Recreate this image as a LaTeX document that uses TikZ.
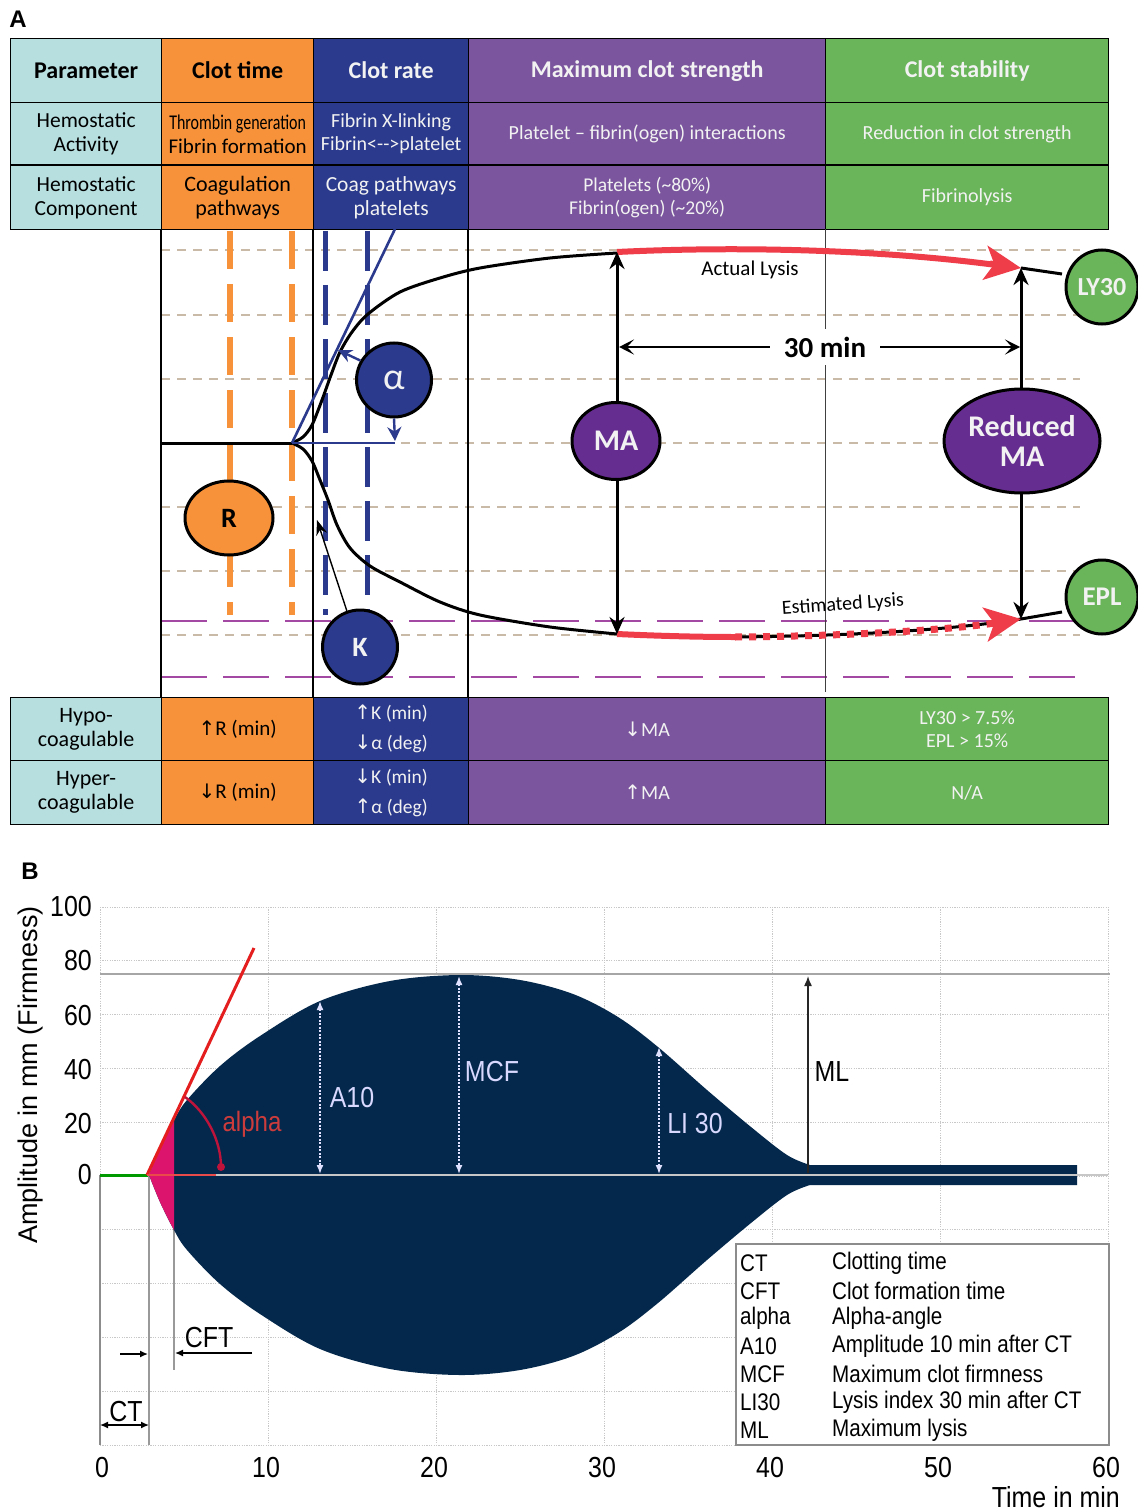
\documentclass[tikz,border=0pt]{standalone}
\usepackage{fontspec}
\usepackage{graphicx}
\setmainfont{Carlito}
\newfontfamily\arialf{Liberation Sans}
\newfontfamily\arialn[FakeStretch=0.86]{Liberation Sans}
\newfontfamily\dvf{DejaVu Sans}
\usetikzlibrary{arrows.meta,shapes.geometric}
\definecolor{cteal}{RGB}{183,223,224}
\definecolor{corange}{RGB}{247,146,58}
\definecolor{cnavy}{RGB}{43,58,140}
\definecolor{cpurple}{RGB}{123,86,158}
\definecolor{cgreen}{RGB}{106,180,90}
\definecolor{cdpurple}{RGB}{102,45,145}
\definecolor{ctan}{RGB}{200,186,166}
\definecolor{cpdash}{RGB}{163,73,164}
\definecolor{cred}{RGB}{239,62,74}
\definecolor{cnavyB}{RGB}{4,40,75}
\definecolor{cmag}{RGB}{220,20,110}
\definecolor{cline}{RGB}{228,30,30}
\definecolor{carc}{RGB}{190,20,60}
\definecolor{calab}{RGB}{205,60,60}
\definecolor{cgrid}{RGB}{200,200,200}
\definecolor{ctxt}{RGB}{242,242,242}
\newcommand{\fs}[2]{\fontsize{#1}{#2}\selectfont}
\newcommand{\uarr}{{\dvf\fontsize{20}{22}\selectfont ↑}}
\newcommand{\darr}{{\dvf\fontsize{20}{22}\selectfont ↓}}
\tikzset{
  cellbox/.style={draw=black, line width=1.3pt, anchor=north west, align=center, inner sep=0pt},
  hdr/.style={font=\fs{24}{28}\bfseries},
  bod/.style={font=\fs{21}{24}},
  bodp/.style={font=\fs{20}{23}},
  wt/.style={text=ctxt},
  circ/.style={ellipse, draw=black, line width=3pt, inner sep=0pt, align=center},
  gline/.style={black, line width=1.2pt},
  tandash/.style={ctan, line width=1.4pt, dash pattern=on 9pt off 7pt},
  pdash/.style={cpdash, line width=1.4pt, dash pattern=on 46pt off 16pt},
  odash/.style={corange, line width=6pt, dash pattern=on 38pt off 15pt},
  bdash/.style={cnavy, line width=5pt, dash pattern=on 40pt off 14pt},
  curve/.style={black, line width=3pt},
  bigtip/.style={-{Stealth[length=36pt,width=34pt,inset=9pt]}},
  gridl/.style={cgrid, line width=1pt, dash pattern=on 1.2pt off 1.2pt},
  wda/.style={white!88!blue, line width=1.6pt, dash pattern=on 2pt off 1.5pt, {Latex[length=9pt,width=7pt]}-{Latex[length=9pt,width=7pt]}},
  btick/.style={font=\fs{29}{32}\arialn},
  blab/.style={font=\fs{29}{32}\arialn},
  leg/.style={font=\fs{24}{27}\arialn, anchor=west, inner sep=0pt}
}
\begin{document}
\begin{tikzpicture}[x=1pt,y=-1pt]
\useasboundingbox (0,0) rectangle (1137,1511);
\fill[white] (0,0) rectangle (1137,1511);

% ================= PANEL A =================
\node[font=\fs{24}{28}\arialf\bfseries] (labA) at (18,19) {A};

% header row
\node[cellbox, fill=cteal, minimum width=151pt, minimum height=64pt, hdr] (p1) at (10,38) {Parameter};
\node[cellbox, fill=corange, minimum width=152pt, minimum height=64pt, hdr] (p2) at (161,38) {Clot time};
\node[cellbox, fill=cnavy, minimum width=155pt, minimum height=64pt, hdr, wt] (p3) at (313,38) {Clot rate};
\node[cellbox, fill=cpurple, minimum width=357pt, minimum height=64pt, hdr, wt] (p4) at (468,38) {Maximum clot strength};
\node[cellbox, fill=cgreen, minimum width=283pt, minimum height=64pt, hdr, wt] (p5) at (825,38) {Clot stability};
% row 2
\node[cellbox, fill=cteal, minimum width=151pt, minimum height=63pt, font=\fs{21.5}{24}] (a1) at (10,102) {Hemostatic\\Activity};
\node[cellbox, fill=corange, minimum width=152pt, minimum height=63pt, bod] (a2) at (161,102) {\scalebox{0.76}[1]{Thrombin generation}\\Fibrin formation};
\node[cellbox, fill=cnavy, minimum width=155pt, minimum height=63pt, bodp, wt] (a3) at (313,102) {Fibrin X-linking\\Fibrin<-{}->platelet};
\node[cellbox, fill=cpurple, minimum width=357pt, minimum height=63pt, bodp, wt] (a4) at (468,102) {Platelet – fibrin(ogen) interactions};
\node[cellbox, fill=cgreen, minimum width=283pt, minimum height=63pt, bodp, wt] (a5) at (825,102) {Reduction in clot strength};
% row 3
\node[cellbox, fill=cteal, minimum width=151pt, minimum height=64pt, font=\fs{21.5}{24}] (c1) at (10,165) {Hemostatic\\Component};
\node[cellbox, fill=corange, minimum width=152pt, minimum height=64pt, font=\fs{22}{24}] (c2) at (161,165) {Coagulation\\pathways};
\node[cellbox, fill=cnavy, minimum width=155pt, minimum height=64pt, font=\fs{21.5}{24}, wt] (c3) at (313,165) {Coag pathways\\platelets};
\node[cellbox, fill=cpurple, minimum width=357pt, minimum height=64pt, font=\fs{19.5}{23}, wt] (c4) at (468,165) {Platelets (\textasciitilde80\%)\\Fibrin(ogen) (\textasciitilde20\%)};
\node[cellbox, fill=cgreen, minimum width=283pt, minimum height=64pt, bodp, wt] (c5) at (825,165) {Fibrinolysis};
\draw[black, line width=2.6pt] (c1.north west) -- (c5.north east);

% graph area: horizontal dashed lines
\foreach \yy in {250,315,379,443,507,571,635} \draw[tandash] (161,\yy) -- (1080,\yy);
\foreach \yy in {621,677} \draw[pdash] (161,\yy) -- (1080,\yy);
% vertical column lines
\coordinate (v1t) at (161,229); \coordinate (v1b) at (161,697);
\coordinate (v2t) at (313,229); \coordinate (v2b) at (313,697);
\coordinate (v3t) at (468,229); \coordinate (v3b) at (468,697);
\coordinate (v4t) at (825,229); \coordinate (v4b) at (825,692);
\draw[gline] (v1t) -- (v1b);
\draw[gline] (v2t) -- (v2b);
\draw[gline] (v3t) -- (v3b);
\draw[black!75, line width=1pt] (v4t) -- (v4b);
% orange and blue dashed verticals
\draw[odash] (230,231) -- (230,615);
\draw[odash] (292,231) -- (292,615);
\draw[bdash] (325,231) -- (325,615);
\draw[bdash] (367,231) -- (367,615);

% black curves
\coordinate (start) at (161,443);
\coordinate (split) at (292,443);
\draw[curve] (start) -- (split);
\draw[curve] plot[smooth] coordinates {(292,443) (303,437) (312,425) (322,400) (331,375) (340,352) (352,332) (368,314) (400,292) (440,278) (480,268) (550,258) (617,253)};
\draw[curve] plot[smooth] coordinates {(292,443) (303,449) (312,461) (320,480) (328,500) (337,525) (350,548) (370,566) (400,582) (440,602) (480,615) (550,627) (617,634)};
% alpha tangent and baseline
\coordinate (tanEnd) at (395,229);
\coordinate (baseEnd) at (395,443);
\draw[cnavy, line width=2.6pt] (split) -- (tanEnd);
\draw[cnavy, line width=2.6pt] (split) -- (baseEnd);

% red lysis arrows
\coordinate (maTop) at (617,252);
\coordinate (maBot) at (617,634);
\coordinate (rmTop) at (1021,268);
\coordinate (rmBot) at (1021,619);
\coordinate (ly30c) at (1062,274);
\coordinate (eplc) at (1062,612);
\coordinate (estA) at (735,637);
\draw[curve] (rmTop) -- (ly30c);
\draw[curve] (rmBot) -- (eplc);
\draw[cred, line width=6pt] (maTop) .. controls (760,245) and (900,252) .. (1000,265.5);
\draw[cred, line width=6pt, bigtip] (990,263.5) -- (rmTop);
\draw[cred, line width=6pt] (maBot) .. controls (660,636) and (700,637) .. (estA);
\draw[curve] (estA) .. controls (850,636) and (950,630) .. (rmBot);
\draw[cred, line width=7pt, dash pattern=on 7pt off 7pt, shorten >=22pt] (estA) .. controls (850,636) and (950,630) .. (rmBot);
\draw[cred, line width=6pt, bigtip] (992,623.5) -- (rmBot);

% MA arrows
\draw[curve, {Stealth[length=17pt,width=15pt]}-{Stealth[length=17pt,width=15pt]}] (maTop) -- (maBot);
\draw[curve, {Stealth[length=17pt,width=15pt]}-{Stealth[length=17pt,width=15pt]}] (rmTop) -- (rmBot);
% 30 min
\coordinate (t30a) at (619,347);
\coordinate (t30b) at (1020,347);
\draw[black, line width=1.8pt, {Stealth[length=15pt,width=15pt,inset=7pt]}-{Stealth[length=15pt,width=15pt,inset=7pt]}] (t30a) -- (t30b);
\node[fill=white, inner xsep=14pt, inner ysep=8pt, font=\fs{29}{30}\bfseries] (thirty) at (825,347) {30 min};
\node[font=\fs{21}{24}] (actual) at (750,270) {Actual Lysis};
\node[font=\fs{20}{24}, rotate=4] (estimated) at (843,605) {Estimated Lysis};

% circles
\node[circ, fill=corange, minimum width=88pt, minimum height=74pt, font=\fs{28}{30}\bfseries] (R) at (229,518) {R};
\node[circ, fill=cnavy, minimum width=75pt, minimum height=74pt, font=\fs{38}{40}, text=ctxt] (alpha) at (394,380) {α};
\node[circ, fill=cnavy, minimum width=75pt, minimum height=74pt, font=\fs{28}{30}\bfseries, text=ctxt] (K) at (360,647) {K};
\node[circ, fill=cdpurple, minimum width=88pt, minimum height=77pt, font=\fs{30}{32}\bfseries, text=ctxt] (MA) at (616,441) {MA};
\node[circ, fill=cdpurple, minimum width=156pt, minimum height=104pt, font=\fs{30}{30}\bfseries, text=ctxt] (RMA) at (1022,441) {Reduced\\MA};
\node[circ, fill=cgreen, minimum width=72pt, minimum height=74pt, font=\fs{26}{28}\bfseries, text=ctxt] (LY30) at (1102,287) {LY30};
\node[circ, fill=cgreen, minimum width=72pt, minimum height=74pt, font=\fs{27}{28}\bfseries, text=ctxt] (EPL) at (1102,597) {EPL};

% small arrows
\coordinate (alTip) at (338,350);
\coordinate (alDown) at (395,441);
\coordinate (kTip) at (317,520);
\draw[cnavy, line width=2.4pt, -{Stealth[length=14pt,width=13pt]}] (alpha.150) -- (alTip);
\draw[cnavy, line width=2.4pt, -{Stealth[length=14pt,width=14pt]}] (alpha.south) -- (alDown);
\draw[black, line width=1.4pt, -{Stealth[length=15pt,width=11pt]}] (K.110) -- (kTip);

% bottom table
\node[cellbox, fill=cteal, minimum width=151pt, minimum height=63pt, font=\fs{22}{24}] (h1) at (10,697) {Hypo-\\coagulable};
\node[cellbox, fill=corange, minimum width=152pt, minimum height=63pt, font=\fs{21}{24}] (h2) at (161,697) {\uarr R (min)};
\node[cellbox, fill=cnavy, minimum width=155pt, minimum height=63pt, font=\fs{19.5}{30}, wt] (h3) at (313,697) {\uarr K (min)\\\darr α (deg)};
\node[cellbox, fill=cpurple, minimum width=357pt, minimum height=63pt, font=\fs{20}{24}, wt] (h4) at (468,697) {\darr MA};
\node[cellbox, fill=cgreen, minimum width=283pt, minimum height=63pt, font=\fs{20}{23}, wt] (h5) at (825,697) {LY30 > 7.5\%\\EPL > 15\%};
\node[cellbox, fill=cteal, minimum width=151pt, minimum height=64pt, font=\fs{22}{24}] (r1) at (10,760) {Hyper-\\coagulable};
\node[cellbox, fill=corange, minimum width=152pt, minimum height=64pt, font=\fs{21}{24}] (r2) at (161,760) {\darr R (min)};
\node[cellbox, fill=cnavy, minimum width=155pt, minimum height=64pt, font=\fs{19.5}{30}, wt] (r3) at (313,760) {\darr K (min)\\\uarr α (deg)};
\node[cellbox, fill=cpurple, minimum width=357pt, minimum height=64pt, font=\fs{20}{24}, wt] (r4) at (468,760) {\uarr MA};
\node[cellbox, fill=cgreen, minimum width=283pt, minimum height=64pt, font=\fs{20}{23}, wt] (r5) at (825,760) {N/A};

% ================= PANEL B =================
\node[font=\fs{24}{28}\arialf\bfseries] (labB) at (30,871) {B};
% grid
\foreach \k in {0,...,10} \draw[gridl] (100,907+53.8*\k) -- (1110,907+53.8*\k);
\foreach \k in {0,...,6} \draw[gridl] (100+168*\k,907) -- (100+168*\k,1445);
\draw[black!35, line width=2pt] (100,974) -- (1110,974);
\coordinate (axTop) at (100,1175);
\coordinate (axBot) at (100,1445);
\draw[black!45, line width=1.6pt] (axTop) -- (axBot);
\draw[black!40, line width=1.2pt] (149,1175) -- (149,1445);
\draw[black!40, line width=1.2pt] (174,1175) -- (174,1370);

% clot shape
\fill[cnavyB] plot[smooth,tension=0.55] coordinates {(149,1175) (160,1148) (174,1120) (187,1100) (220,1066) (260,1036) (320,1001) (390,981) (460,975) (520,980) (573,994) (618,1017) (658,1047) (707,1090) (751,1127) (787,1155) (810,1165)} -- (1077,1165) -- (1077,1185) -- plot[smooth,tension=0.55] coordinates {(810,1185) (787,1195) (751,1223) (707,1260) (658,1303) (618,1333) (573,1356) (520,1370) (460,1375) (390,1369) (320,1349) (260,1314) (220,1284) (187,1250) (174,1230) (160,1202) (149,1175)} -- cycle;
\begin{scope}
\clip (149,1000) rectangle (174,1300);
\fill[cmag] plot[smooth,tension=0.55] coordinates {(149,1175) (160,1148) (174,1120) (187,1100) (220,1066) (260,1036) (320,1001) (390,981) (460,975) (520,980) (573,994) (618,1017) (658,1047) (707,1090) (751,1127) (787,1155) (810,1165)} -- (1077,1165) -- (1077,1185) -- plot[smooth,tension=0.55] coordinates {(810,1185) (787,1195) (751,1223) (707,1260) (658,1303) (618,1333) (573,1356) (520,1370) (460,1375) (390,1369) (320,1349) (260,1314) (220,1284) (187,1250) (174,1230) (160,1202) (149,1175)} -- cycle;
\end{scope}
\draw[black!22, line width=1.2pt] (100,1175) -- (1108,1175);
\coordinate (g0) at (100,1175);
\coordinate (g1) at (148,1175);
\draw[green!60!black, line width=3pt] (g0) -- (g1);

% alpha
\coordinate (rl0) at (147,1175);
\coordinate (rl1) at (254,948);
\draw[cline, line width=3pt] (rl0) -- (rl1);
\draw[cline!80, line width=1.4pt] (rl0) -- (216,1175);
\coordinate (arcA) at (185,1097);
\coordinate (arcB) at (221,1167);
\draw[carc, line width=2.4pt] (arcA) .. controls (206,1112) and (221,1140) .. (arcB);
\fill[carc] (arcB) circle (4pt);
\node[font=\fs{28}{30}\arialn, text=calab] (alphaLab) at (252,1124) {alpha};

% measurement arrows
\coordinate (a10t) at (320,1001); \coordinate (a10b) at (320,1174);
\coordinate (mcft) at (459,976); \coordinate (mcfb) at (459,1174);
\coordinate (li30t) at (659,1047); \coordinate (li30b) at (659,1174);
\draw[wda] (a10t) -- (a10b);
\draw[wda] (mcft) -- (mcfb);
\draw[wda] (li30t) -- (li30b);
\node[blab, text=white!85!blue] (A10) at (352,1098) {A10};
\node[blab, text=white!85!blue] (MCF) at (492,1072) {MCF};
\node[blab, text=white!85!blue] (LI30) at (695,1124) {LI 30};
\coordinate (mlb) at (808,1173); \coordinate (mlt) at (808,976);
\draw[black!85, line width=1.5pt, -{Latex[length=10pt,width=8pt]}] (mlb) -- (mlt);
\node[blab] (ML) at (832,1072) {ML};

% axis ticks
\foreach \v/\yy in {100/907,80/961,60/1016,40/1070,20/1124,0/1175}
  \node[btick, anchor=east, inner sep=0pt] (yt\v) at (92,\yy) {\v};
\foreach \v/\xx in {0/102,10/266,20/434,30/602,40/770,50/938,60/1106}
  \node[btick] (xt\v) at (\xx,1467) {\v};
\node[font=\fs{27}{30}\arialf, rotate=90] (ytitle) at (31,1075) {Amplitude in mm (Firmness)};
\node[btick, anchor=east, inner sep=0pt] (xtitle) at (1120,1497) {Time in min};

% CT / CFT
\coordinate (ct0) at (100,1425); \coordinate (ct1) at (149,1425);
\draw[black, line width=1.4pt, {Latex[length=8pt,width=7pt]}-{Latex[length=8pt,width=7pt]}] (ct0) -- (ct1);
\node[blab] (CT) at (126,1411) {CT};
\coordinate (cfa0) at (120,1354); \coordinate (cfa1) at (148,1354);
\coordinate (cfb0) at (252,1353); \coordinate (cfb1) at (175,1353);
\draw[black, line width=1.4pt, -{Latex[length=8pt,width=7pt]}] (cfa0) -- (cfa1);
\draw[black, line width=1.4pt, -{Latex[length=8pt,width=7pt]}] (cfb0) -- (cfb1);
\node[blab] (CFT) at (209,1338) {CFT};

% legend
\node[draw=black!45, line width=1.5pt, fill=white, anchor=north west, minimum width=373pt, minimum height=201pt, inner sep=0pt] (legbox) at (735,1243) {};
\foreach \i/\ab/\txt in {0/CT/Clotting time,1/CFT/Clot formation time,2/alpha/Alpha-angle,3/A10/Amplitude 10 min after CT,4/MCF/Maximum clot firmness,5/LI30/Lysis index 30 min after CT,6/ML/Maximum lysis}{
  \node[leg] (la\i) at (740,1263+27.8*\i) {\ab};
  \node[leg] (lt\i) at (832,1263+27.8*\i) {\txt};
}
\end{tikzpicture}
\end{document}
